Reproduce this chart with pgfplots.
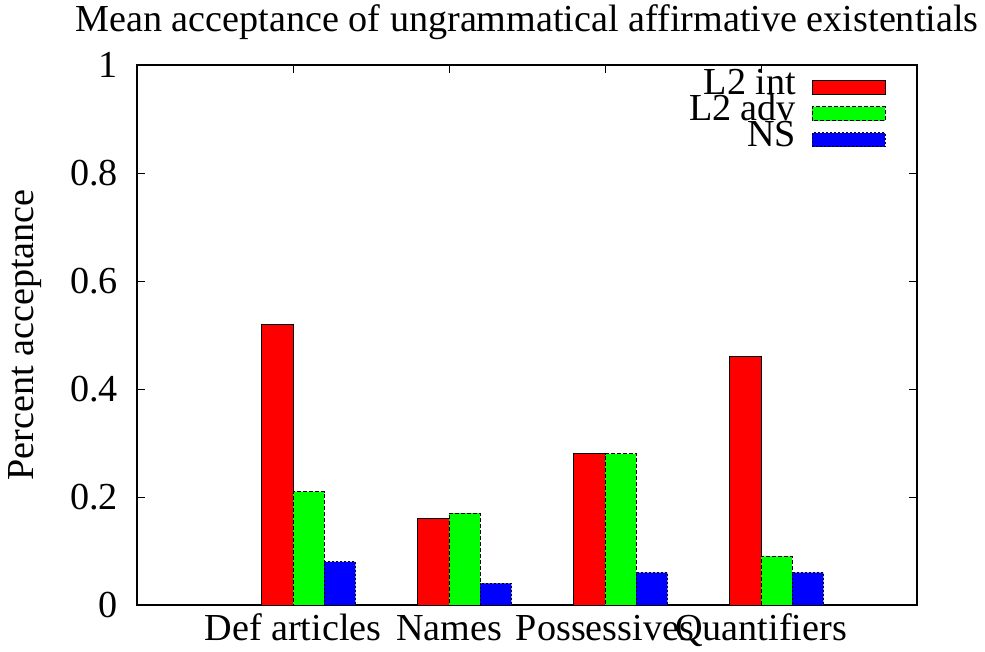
\documentclass[border=0pt]{standalone}
\usepackage{fontspec}
\setmainfont{Liberation Serif}
\usepackage{pgfplots}
\pgfplotsset{compat=1.18}
\begin{document}
\begin{tikzpicture}[font=\fontsize{38.3}{45}\selectfont]
\useasboundingbox (-137bp,-47bp) rectangle (848bp,605bp);
\begin{axis}[
  at={(0,0)}, anchor=south west,
  scale only axis, width=780bp, height=540bp,
  xmin=-1, xmax=4, ymin=0, ymax=1,
  axis line style={line width=1.2bp},
  xtick={0,1,2,3},
  xticklabels={Def articles,Names,Possessives,Quantifiers},
  ytick={0,0.2,0.4,0.6,0.8,1},
  tick align=inside, major tick length=8bp,
  tick style={line width=0.8bp, black},
  /pgf/number format/assume math mode=true,
  xticklabel style={anchor=base, yshift=-35bp, inner sep=0pt},
  yticklabel style={anchor=east, xshift=-19bp, inner sep=0pt},
  title={Mean acceptance of ungrammatical affirmative existentials},
  title style={at={(axis description cs:0.5,1)}, anchor=base, yshift=28bp, inner sep=0pt},
  ylabel={Percent acceptance},
  ylabel style={at={(axis description cs:-0.1436,0.5)}, anchor=center, inner sep=0pt},
  legend plot pos=right,
  legend cell align=right,
  legend style={draw=none, fill=none, at={(axis description cs:0.9603,0.9824)}, anchor=north east,
    inner sep=0pt, column sep=16bp,
    nodes={inner sep=0pt, text height=20bp, text depth=6bp}},
  legend image code/.code={\draw[#1] (0bp,-7bp) rectangle (73bp,7bp);},
]
\addplot[ybar, bar width=0.2, bar shift=-0.1, fill={rgb,255:red,255;green,0;blue,0}, draw=black, line width=0.8bp]
  coordinates {(0,0.52) (1,0.16) (2,0.28) (3,0.46)};
\addlegendentry{L2 int}
\addplot[ybar, bar width=0.2, bar shift=0.1, fill={rgb,255:red,0;green,255;blue,0}, draw=black, line width=0.8bp, dash pattern=on 4bp off 2bp]
  coordinates {(0,0.21) (1,0.17) (2,0.28) (3,0.09)};
\addlegendentry{L2 adv}
\addplot[ybar, bar width=0.2, bar shift=0.3, fill={rgb,255:red,0;green,0;blue,255}, draw=black, line width=0.8bp, dash pattern=on 2bp off 2bp]
  coordinates {(0,0.08) (1,0.04) (2,0.06) (3,0.06)};
\addlegendentry{NS}
\end{axis}
\end{tikzpicture}
\end{document}
